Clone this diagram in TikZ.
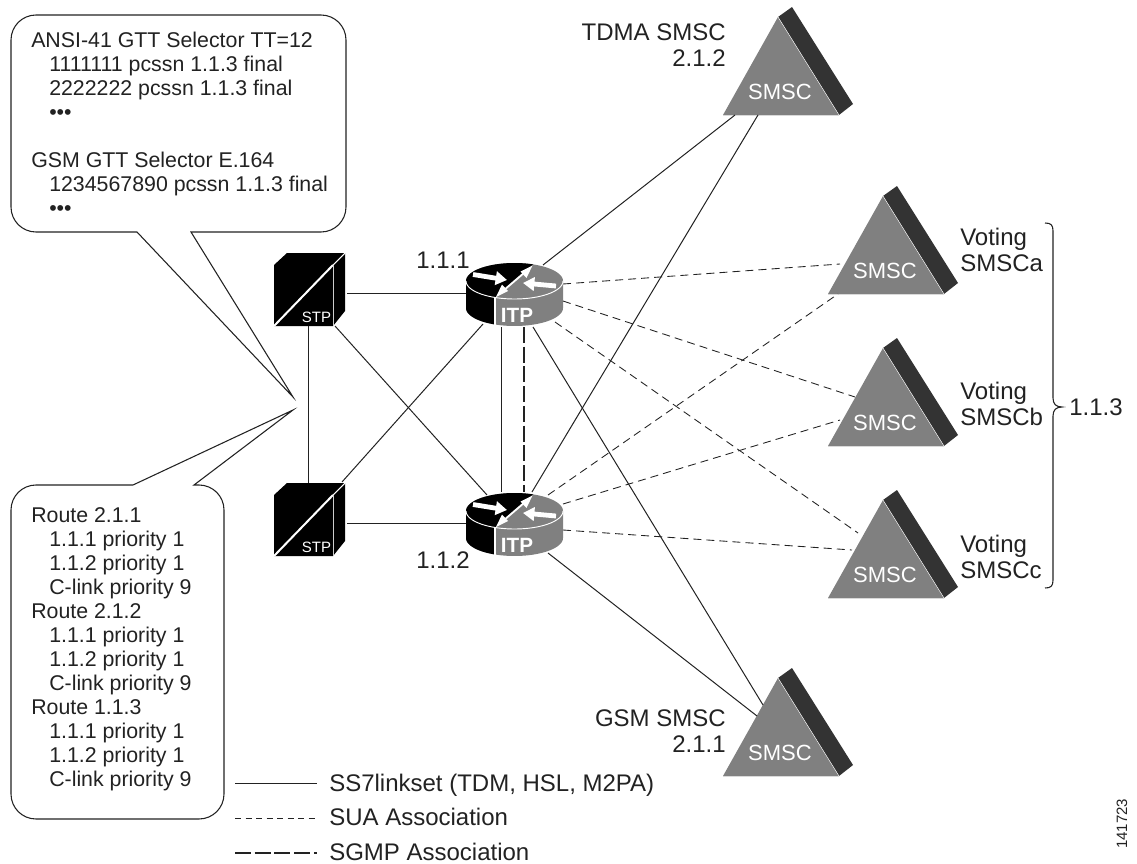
\documentclass[tikz,border=0pt]{standalone}
\usepackage{fontspec}
\setmainfont{Liberation Sans}
\usetikzlibrary{arrows.meta}
\definecolor{ink}{HTML}{222222}
\definecolor{smscgray}{HTML}{808080}
\definecolor{smscdark}{HTML}{333333}
\newcommand{\ind}{\hspace*{13.5pt}}
\tikzset{
  link/.style={draw=ink,line width=0.75pt},
  sua/.style={draw=ink,line width=0.65pt,dash pattern=on 6pt off 3.8pt},
  sgmp/.style={draw=ink,line width=2.2pt,dash pattern=on 12pt off 2.8pt},
  lbl/.style={text=ink,font=\fontsize{18}{20}\selectfont,inner sep=0pt},
  note/.style={text=ink,font=\fontsize{16}{18}\selectfont,inner sep=0pt,align=left,anchor=north west},
  bubble/.style={draw=ink,line width=0.8pt,fill=white},
  smsclbl/.style={text=white,font=\fontsize{16.5}{18}\selectfont,inner sep=0pt},
  itplbl/.style={text=white,font=\bfseries\fontsize{15.5}{18}\selectfont,inner sep=0pt},
  stplbl/.style={text=white,font=\fontsize{11.25}{13}\selectfont,inner sep=0pt}
}
% #1 name, #2 apex x, #3 apex y
\newcommand{\smscdev}[3]{
  \begin{scope}[shift={(#2,#3)}]
    \fill[smscdark] (0,0) -- (14,-10) -- (75,87) -- (61,98) -- cycle;
    \fill[smscgray] (0,0) -- (61,98) -- (-55,98) -- cycle;
    \draw[white,line width=0.3pt] (0,0) -- (61,98);
    \draw[white!85!black,line width=0.5pt] (-55,98.3) -- (61,98.3);
    \node[smsclbl] (#1) at (2,75) {SMSC};
  \end{scope}
}
% #1 name, #2 x, #3 y of the front face's top-left corner
\newcommand{\cubedev}[3]{
  \begin{scope}[shift={(#2,#3)}]
    \fill[black] (0,0) -- (13,-12) -- (71,-12) -- (71,46) -- (59,61) -- (0,61) -- cycle;
    \draw[white,line width=1.5pt] (0,61) -- (59,0);
    \draw[white,line width=0.8pt] (59,0) -- (71,-12);
    \draw[white!80!black,line width=0.7pt] (59,0) -- (59,61);
    \node[stplbl] (#1) at (42.5,52) {STP};
  \end{scope}
}
% #1 name, #2 x, #3 y of the top ellipse's centre
\newcommand{\routerdev}[3]{
  \begin{scope}[shift={(#2,#3)}]
    \fill[smscgray] plot[domain=0:-180,samples=40] ({48.5*cos(\x)},{18*sin(\x)})
      -- plot[domain=180:0,samples=40] ({48.5*cos(\x)},{27+18*sin(\x)}) -- cycle;
    \fill[black] plot[domain=-67.6:-246.3,samples=40] ({48.5*cos(\x)},{18*sin(\x)}) -- cycle;
    \fill[black] (-48.5,0) -- plot[domain=180:113.7,samples=20] ({48.5*cos(\x)},{27+18*sin(\x)})
      -- (-19.5,16.5) -- plot[domain=113.7:180,samples=20] ({48.5*cos(\x)},{18*sin(\x)}) -- cycle;
    \draw[white,line width=0.7pt] plot[domain=180:0,samples=40] ({48.5*cos(\x)},{18*sin(\x)});
    \draw[white,line width=0.9pt] (-19.5,16.5) -- (-19.5,43.5);
    \draw[white,line width=1.4pt] (-11,9.5) -- (10,-8.5);
    \fill[white] (-18.5,16) -- (-6.5,10) -- (-12.5,3.5) -- cycle;
    \fill[white] (18,-15.5) -- (6,-9.5) -- (12,-3) -- cycle;
    \draw[white,line width=3.6pt,-{Triangle[length=8.5pt,width=10pt]}] (-41.5,-6.5) -- (-7.5,-1);
    \draw[white,line width=3.6pt,-{Triangle[length=8.5pt,width=10pt]}] (41.5,5) -- (8.5,2);
    \node[itplbl,anchor=base] (#1) at (2.5,41) {ITP};
  \end{scope}
}
\begin{document}
\begin{tikzpicture}[x=0.75pt,y=-0.75pt]
\useasboundingbox (0,0) rectangle (1137,863);

% callouts
\draw[bubble] (36,15) -- (321,15) arc[start angle=90,end angle=0,radius=18.75pt] -- (346,207)
  arc[start angle=0,end angle=-90,radius=18.75pt] -- (191,232) -- (293,397) -- (137,232) -- (36,232)
  arc[start angle=-90,end angle=-180,radius=18.75pt] -- (11,40) arc[start angle=180,end angle=90,radius=18.75pt] -- cycle;
\draw[bubble] (36,485) -- (133,485) -- (293,410) -- (194,485) -- (199,485)
  arc[start angle=90,end angle=0,radius=18.75pt] -- (224,794)
  arc[start angle=0,end angle=-90,radius=18.75pt] -- (36,819)
  arc[start angle=-90,end angle=-180,radius=18.75pt] -- (11,510)
  arc[start angle=180,end angle=90,radius=18.75pt] -- cycle;
\node[note] (gtt) at (31,31.5) {ANSI-41 GTT Selector TT=12\\
  \ind 1111111 pcssn 1.1.3 final\\
  \ind 2222222 pcssn 1.1.3 final\\
  \ind •••\\
  \\
  GSM GTT Selector E.164\\
  \ind 1234567890 pcssn 1.1.3 final\\
  \ind •••};
\node[note] (routes) at (31,507) {Route 2.1.1\\
  \ind 1.1.1 priority 1\\
  \ind 1.1.2 priority 1\\
  \ind C-link priority 9\\
  Route 2.1.2\\
  \ind 1.1.1 priority 1\\
  \ind 1.1.2 priority 1\\
  \ind C-link priority 9\\
  Route 1.1.3\\
  \ind 1.1.1 priority 1\\
  \ind 1.1.2 priority 1\\
  \ind C-link priority 9};

% devices
\cubedev{stpa}{274}{265}
\cubedev{stpb}{274}{495}
\routerdev{ra}{514.5}{281}
\routerdev{rb}{514.5}{511}
\smscdev{tdma}{778}{17}
\smscdev{va}{883}{196}
\smscdev{vb}{883}{348}
\smscdev{vc}{883}{500}
\smscdev{gsm}{778}{678}

% connector end points, each tied to its device
\coordinate (stpa-r) at (347,293);
\coordinate (stpb-r) at (347,523);
\coordinate (stpa-b) at (308,326);
\coordinate (stpb-t) at (308,483);
\coordinate (stpa-x) at (335,326);
\coordinate (stpb-x) at (342,482);
\coordinate (ra-l) at (466,293);
\coordinate (rb-l) at (466,523);
\coordinate (ra-x) at (483,324);
\coordinate (rb-x) at (487,495);
\coordinate (ra-b1) at (501,327);
\coordinate (rb-t1) at (501,492);
\coordinate (ra-b2) at (524,327);
\coordinate (rb-t2) at (524,492);
\coordinate (ra-t) at (543,265);
\coordinate (rb-t3) at (532,492);
\coordinate (ra-b3) at (533,327);
\coordinate (rb-b3) at (548,553);
\coordinate (tdma-1) at (735,115);
\coordinate (tdma-2) at (758,115);
\coordinate (gsm-1) at (763,705);
\coordinate (gsm-2) at (757,716);
\coordinate (ra-d1) at (563,284);
\coordinate (ra-d2) at (563,301);
\coordinate (ra-d3) at (555,322);
\coordinate (rb-d1) at (548,495);
\coordinate (rb-d2) at (563,504);
\coordinate (rb-d3) at (563,530);
\coordinate (va-1) at (840,264);
\coordinate (va-2) at (838,294);
\coordinate (vb-1) at (855,397);
\coordinate (vb-2) at (840,420);
\coordinate (vc-1) at (858,533);
\coordinate (vc-2) at (852,550);

\draw[link] (stpa-r) -- (ra-l);
\draw[link] (stpb-r) -- (rb-l);
\draw[link] (stpa-b) -- (stpb-t);
\draw[link] (stpa-x) -- (rb-x);
\draw[link] (stpb-x) -- (ra-x);
\draw[link] (ra-b1) -- (rb-t1);
\draw[sgmp] (ra-b2) -- (rb-t2);
\draw[link] (ra-t) -- (tdma-1);
\draw[link] (rb-t3) -- (tdma-2);
\draw[link] (ra-b3) -- (gsm-1);
\draw[link] (rb-b3) -- (gsm-2);
\draw[sua] (ra-d1) -- (va-1);
\draw[sua] (ra-d2) -- (vb-1);
\draw[sua] (ra-d3) -- (vc-1);
\draw[sua] (rb-d1) -- (va-2);
\draw[sua] (rb-d2) -- (vb-2);
\draw[sua] (rb-d3) -- (vc-2);

% labels
\node[lbl,anchor=base west] (l111) at (416,268) {1.1.1};
\node[lbl,anchor=base west] (l112) at (416,568) {1.1.2};
\node[lbl,anchor=base east] (ltdma) at (726,41) {TDMA SMSC};
\node[lbl,anchor=base east] (ltdma2) at (726,67) {2.1.2};
\node[lbl,anchor=base east] (lgsm) at (726,726) {GSM SMSC};
\node[lbl,anchor=base east] (lgsm2) at (726,752) {2.1.1};
\node[lbl,anchor=base west] (lva) at (960,245) {Voting};
\node[lbl,anchor=base west] (lva2) at (960,271) {SMSCa};
\node[lbl,anchor=base west] (lvb) at (960,399) {Voting};
\node[lbl,anchor=base west] (lvb2) at (960,425) {SMSCb};
\node[lbl,anchor=base west] (lvc) at (960,552) {Voting};
\node[lbl,anchor=base west] (lvc2) at (960,578) {SMSCc};
\node[lbl,anchor=base west] (l113) at (1069,415) {1.1.3};

% brace
\draw[ink,line width=0.8pt] (1045,223) .. controls (1051,223) and (1053,225) .. (1053,231)
  -- (1053,398) .. controls (1053,404) and (1056,407) .. (1062,407)
  .. controls (1056,407) and (1053,410) .. (1053,416)
  -- (1053,580) .. controls (1053,586) and (1051,588) .. (1045,588);

% legend
\coordinate (k1a) at (235,783); \coordinate (k1b) at (317,783);
\coordinate (k2a) at (235,818); \coordinate (k2b) at (317,818);
\coordinate (k3a) at (235,853); \coordinate (k3b) at (317,853);
\draw[link] (k1a) -- (k1b);
\draw[draw=ink,line width=0.5pt,dash pattern=on 4.5pt off 3.4pt] (k2a) -- (k2b);
\draw[sgmp] (k3a) -- (k3b);
\node[lbl,anchor=base west] (k1) at (329,791) {SS7linkset (TDM, HSL, M2PA)};
\node[lbl,anchor=base west] (k2) at (329,825) {SUA Association};
\node[lbl,anchor=base west] (k3) at (329,860) {SGMP Association};

\node[text=ink,font=\fontsize{11.25}{13}\selectfont,inner sep=0pt,rotate=90,anchor=base west] (fig) at (1127,849) {141723};
\end{tikzpicture}
\end{document}
